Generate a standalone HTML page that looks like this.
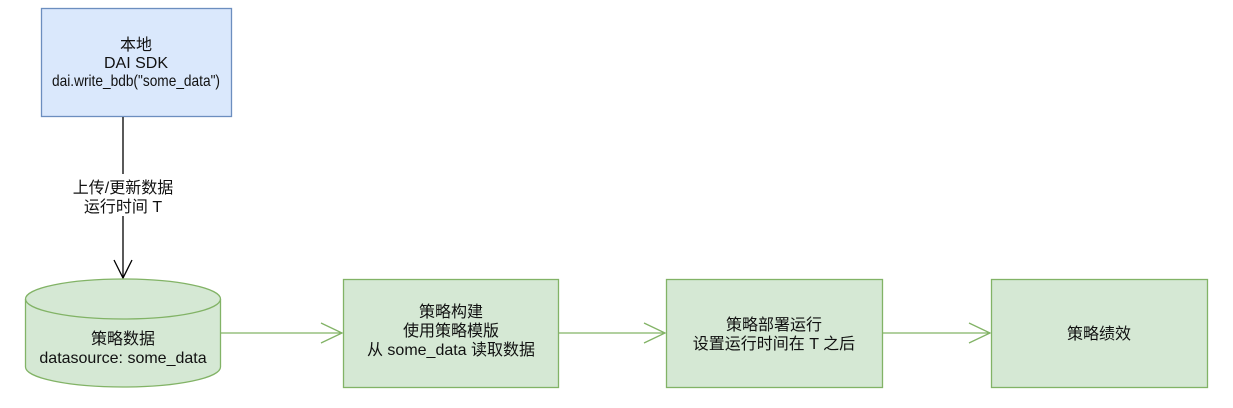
<!DOCTYPE html>
<html><head><meta charset="utf-8"><style>
body{margin:0;background:#fff}
svg text{font-family:"Liberation Sans","Noto Sans CJK SC",sans-serif;font-size:16px;fill:#111;text-anchor:middle}
</style></head><body>
<svg width="1233" height="403" xmlns="http://www.w3.org/2000/svg">
<rect x="41.5" y="8.5" width="190" height="108" fill="#dae8fc" stroke="#6c8ebf" stroke-width="1.3"/>
<text x="136" y="50">本地</text>
<text x="136" y="68">DAI SDK</text>
<text x="136" y="86" textLength="168" lengthAdjust="spacingAndGlyphs">dai.write_bdb("some_data")</text>
<line x1="123" y1="117" x2="123" y2="278" stroke="#000" stroke-width="1.3"/>
<rect x="60" y="174" width="126" height="42" fill="#fff"/>
<text x="123" y="193">上传/更新数据</text>
<text x="123" y="212">运行时间 T</text>
<polyline points="114,260 123,278 132,260" fill="none" stroke="#000" stroke-width="1.3"/>
<path d="M25.5,299 A97.5,20 0 0 1 220.5,299 L220.5,367 A97.5,20 0 0 1 25.5,367 Z" fill="#d5e8d4" stroke="#82b366" stroke-width="1.3"/>
<path d="M25.5,299 A97.5,20 0 0 0 220.5,299" fill="none" stroke="#82b366" stroke-width="1.3"/>
<text x="123" y="344">策略数据</text>
<text x="123" y="363">datasource: some_data</text>
<g stroke="#82b366" stroke-width="1.3" fill="none">
<line x1="221" y1="333" x2="342" y2="333"/><polyline points="321,323 342,333 321,343"/>
<line x1="559" y1="333" x2="665" y2="333"/><polyline points="644,323 665,333 644,343"/>
<line x1="883" y1="333" x2="990" y2="333"/><polyline points="969,323 990,333 969,343"/>
</g>
<g fill="#d5e8d4" stroke="#82b366" stroke-width="1.3">
<rect x="343.5" y="279.5" width="215" height="108"/>
<rect x="666.5" y="279.5" width="216" height="108"/>
<rect x="991.5" y="279.5" width="216" height="108"/>
</g>
<text x="451" y="317">策略构建</text>
<text x="451" y="336">使用策略模版</text>
<text x="451" y="355">从 some_data 读取数据</text>
<text x="774" y="330">策略部署运行</text>
<text x="774" y="349">设置运行时间在 T 之后</text>
<text x="1099" y="339">策略绩效</text>
</svg>
</body></html>
